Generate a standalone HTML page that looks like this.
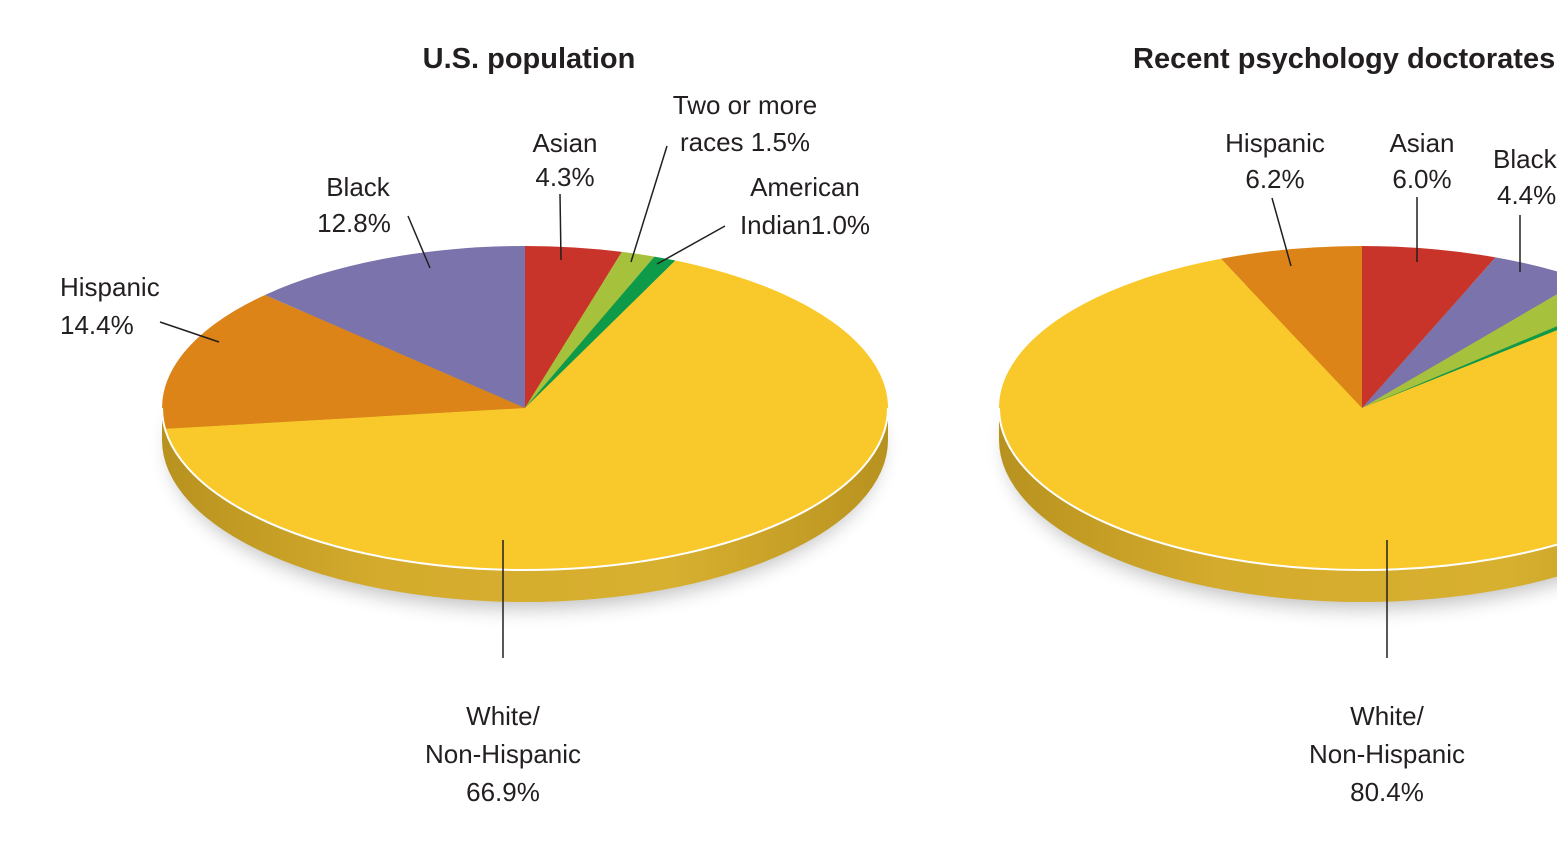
<!DOCTYPE html>
<html><head><meta charset="utf-8"><style>
html,body{margin:0;padding:0;background:#fff;}
svg{display:block;}
text{font-family:"Liberation Sans",sans-serif;font-size:26px;fill:#231f20;}
.t{font-weight:bold;font-size:29px;}
</style></head><body>
<svg width="1557" height="844" viewBox="0 0 1557 844" xmlns="http://www.w3.org/2000/svg">
<defs>
<linearGradient id="side" x1="0" x2="1" y1="0" y2="0">
<stop offset="0" stop-color="#b8921f"/><stop offset="0.3" stop-color="#d4ab2c"/><stop offset="0.7" stop-color="#d8b030"/><stop offset="1" stop-color="#b8921f"/>
</linearGradient>
<filter id="blur" x="-20%" y="-50%" width="140%" height="200%"><feGaussianBlur stdDeviation="10"/></filter>
</defs>

<!-- LEFT PIE -->
<ellipse cx="525" cy="448" rx="355" ry="160" fill="#000" opacity="0.25" filter="url(#blur)"/>
<ellipse cx="525" cy="440" rx="363" ry="162" fill="url(#side)"/>
<rect x="162" y="408" width="726" height="32" fill="url(#side)"/>
<g transform="translate(525,408) scale(1,0.4463)">
<path d="M0 0 L0 -363 A363 363 0 0 1 96.9 -349.8 Z" fill="#c9342a"/>
<path d="M0 0 L96.9 -349.8 A363 363 0 0 1 129.4 -339.2 Z" fill="#a6c23c"/>
<path d="M0 0 L129.4 -339.2 A363 363 0 0 1 150.4 -330.4 Z" fill="#0f9a4a"/>
<path d="M0 0 L150.4 -330.4 A363 363 0 1 1 -360 46.5 Z" fill="#f9c92c"/>
<path d="M0 0 L-360 46.5 A363 363 0 0 1 -260 -253.3 Z" fill="#dc8418"/>
<path d="M0 0 L-260 -253.3 A363 363 0 0 1 0 -363 Z" fill="#7b73ab"/>
<path d="M-363 0 A363 363 0 0 0 363 0" fill="none" stroke="#fff" stroke-width="2" vector-effect="non-scaling-stroke"/>
</g>
<text class="t" x="529" y="68" text-anchor="middle">U.S. population</text>
<text x="565" y="152" text-anchor="middle">Asian</text>
<text x="565" y="186" text-anchor="middle">4.3%</text>
<line x1="560" y1="194" x2="561" y2="260" stroke="#231f20" stroke-width="1.5"/>
<text x="745" y="114" text-anchor="middle">Two or more</text>
<text x="745" y="151" text-anchor="middle">races 1.5%</text>
<line x1="667" y1="146" x2="631" y2="262" stroke="#231f20" stroke-width="1.5"/>
<text x="805" y="196" text-anchor="middle">American</text>
<text x="805" y="234" text-anchor="middle">Indian1.0%</text>
<line x1="725" y1="226" x2="657" y2="264" stroke="#231f20" stroke-width="1.5"/>
<text x="358" y="196" text-anchor="middle">Black</text>
<text x="354" y="232" text-anchor="middle">12.8%</text>
<line x1="408" y1="216" x2="430" y2="268" stroke="#231f20" stroke-width="1.5"/>
<text x="60" y="296">Hispanic</text>
<text x="60" y="334">14.4%</text>
<line x1="160" y1="322" x2="219" y2="342" stroke="#231f20" stroke-width="1.5"/>
<line x1="503" y1="540" x2="503" y2="658" stroke="#231f20" stroke-width="1.5"/>
<text x="503" y="725" text-anchor="middle">White/</text>
<text x="503" y="763" text-anchor="middle">Non-Hispanic</text>
<text x="503" y="801" text-anchor="middle">66.9%</text>

<!-- RIGHT PIE -->
<ellipse cx="1362" cy="448" rx="355" ry="160" fill="#000" opacity="0.25" filter="url(#blur)"/>
<ellipse cx="1362" cy="440" rx="363" ry="162" fill="url(#side)"/>
<rect x="999" y="408" width="726" height="32" fill="url(#side)"/>
<g transform="translate(1362,408) scale(1,0.4463)">
<path d="M0 0 L0 -363 A363 363 0 0 1 133.6 -337.5 Z" fill="#c9342a"/>
<path d="M0 0 L133.6 -337.5 A363 363 0 0 1 220.7 -288.3 Z" fill="#7b73ab"/>
<path d="M0 0 L220.7 -288.3 A363 363 0 0 1 264.6 -248.5 Z" fill="#a6c23c"/>
<path d="M0 0 L264.6 -248.5 A363 363 0 0 1 270.7 -241.8 Z" fill="#0f9a4a"/>
<path d="M0 0 L270.7 -241.8 A363 363 0 1 1 -141 -334.5 Z" fill="#f9c92c"/>
<path d="M0 0 L-141 -334.5 A363 363 0 0 1 0 -363 Z" fill="#dc8418"/>
<path d="M-363 0 A363 363 0 0 0 363 0" fill="none" stroke="#fff" stroke-width="2" vector-effect="non-scaling-stroke"/>
</g>
<text class="t" x="1133" y="68">Recent psychology doctorates</text>
<text x="1275" y="152" text-anchor="middle">Hispanic</text>
<text x="1275" y="188" text-anchor="middle">6.2%</text>
<line x1="1272" y1="198" x2="1291" y2="266" stroke="#231f20" stroke-width="1.5"/>
<text x="1422" y="152" text-anchor="middle">Asian</text>
<text x="1422" y="188" text-anchor="middle">6.0%</text>
<line x1="1417" y1="197" x2="1417" y2="262" stroke="#231f20" stroke-width="1.5"/>
<text x="1493" y="168">Black</text>
<text x="1497" y="204">4.4%</text>
<line x1="1520" y1="215" x2="1520" y2="272" stroke="#231f20" stroke-width="1.5"/>
<line x1="1387" y1="540" x2="1387" y2="658" stroke="#231f20" stroke-width="1.5"/>
<text x="1387" y="725" text-anchor="middle">White/</text>
<text x="1387" y="763" text-anchor="middle">Non-Hispanic</text>
<text x="1387" y="801" text-anchor="middle">80.4%</text>
</svg>
</body></html>
